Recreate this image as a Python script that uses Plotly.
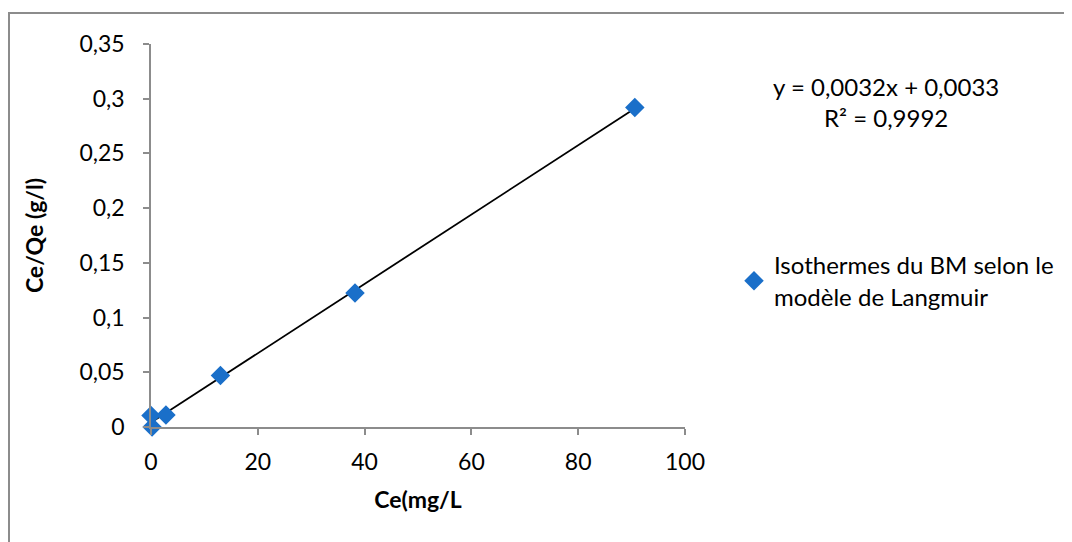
import numpy as np
import plotly.graph_objects as go

ce = [0.2, 0.0, 2.8, 13.0, 38.2, 90.6]
ce_qe = [0.0, 0.0105, 0.011, 0.047, 0.1225, 0.292]
series_name = "Isothermes du BM selon le<br>modèle de Langmuir"
x_title = "Ce(mg/L"
y_title = "Ce/Qe (g/l)"
eq_text = "y = 0,0032x + 0,0033<br>R² = 0,9992"

slope, intercept = np.polyfit(ce, ce_qe, 1)
xl = [min(ce), max(ce)]
yl = [slope * v + intercept for v in xl]

FONT = "Lato"
fig = go.Figure()
fig.add_trace(go.Scatter(x=xl, y=yl, mode="lines", line=dict(color="black", width=1.8),
                         showlegend=False, hoverinfo="skip", cliponaxis=False))
fig.add_trace(go.Scatter(x=ce, y=ce_qe, mode="markers", name=series_name, cliponaxis=False,
                         marker=dict(symbol="diamond", size=15, color="#1a6fc9",
                                     line=dict(width=0))))

OFF = 8  # page body margin
W, H = 1072, 542
X0, X1, Y0, Y1 = 151, 685, 427, 44  # screen px of plot area
pw, ph = X1 - X0, Y0 - Y1
L, T = X0 - OFF, Y1 - OFF
R, B = W - L - pw, H - T - ph

def px(x):
    return (x - X0) / pw

def py(y):
    return (Y0 - y) / ph

fig.update_layout(
    width=W, height=H,
    margin=dict(l=L, r=R, t=T, b=B, pad=0),
    paper_bgcolor="white", plot_bgcolor="white",
    separators=", ",
    font=dict(family=FONT, size=23, color="black"),
    xaxis=dict(range=[0, 100], dtick=20, tick0=0, showgrid=False, zeroline=False,
               showline=True, linecolor="#8c8c8c", linewidth=1.5,
               ticks="outside", ticklen=6, tickcolor="#8c8c8c", tickwidth=1.5,
               ticklabelstandoff=8,
               title=dict(text="<b>" + x_title + "</b>", font=dict(size=23), standoff=18),
               tickfont=dict(size=23)),
    yaxis=dict(range=[0, 0.35], dtick=0.05, tick0=0, showgrid=False, zeroline=False,
               showline=True, linecolor="#8c8c8c", linewidth=1.5,
               ticks="outside", ticklen=6, tickcolor="#8c8c8c", tickwidth=1.5,
               ticklabelstandoff=14,
               title=dict(text="<b>" + y_title + "</b>", font=dict(size=23), standoff=29),
               tickfont=dict(size=23)),
    legend=dict(x=px(734), y=py(281), xanchor="left", yanchor="middle",
                font=dict(size=24), bgcolor="rgba(0,0,0,0)", itemsizing="trace",
                tracegroupgap=0),
    annotations=[dict(text=eq_text, x=px(886), y=py(102), xref="paper", yref="paper",
                      showarrow=False, xanchor="center", yanchor="middle",
                      align="center", font=dict(size=24))],
    shapes=[dict(type="rect", xref="paper", yref="paper",
                 x0=px(9), x1=px(1100), y0=py(570), y1=py(13),
                 line=dict(color="#8c8c8c", width=2), fillcolor="rgba(0,0,0,0)",
                 layer="below")],
)
fig.write_html("out.html")
